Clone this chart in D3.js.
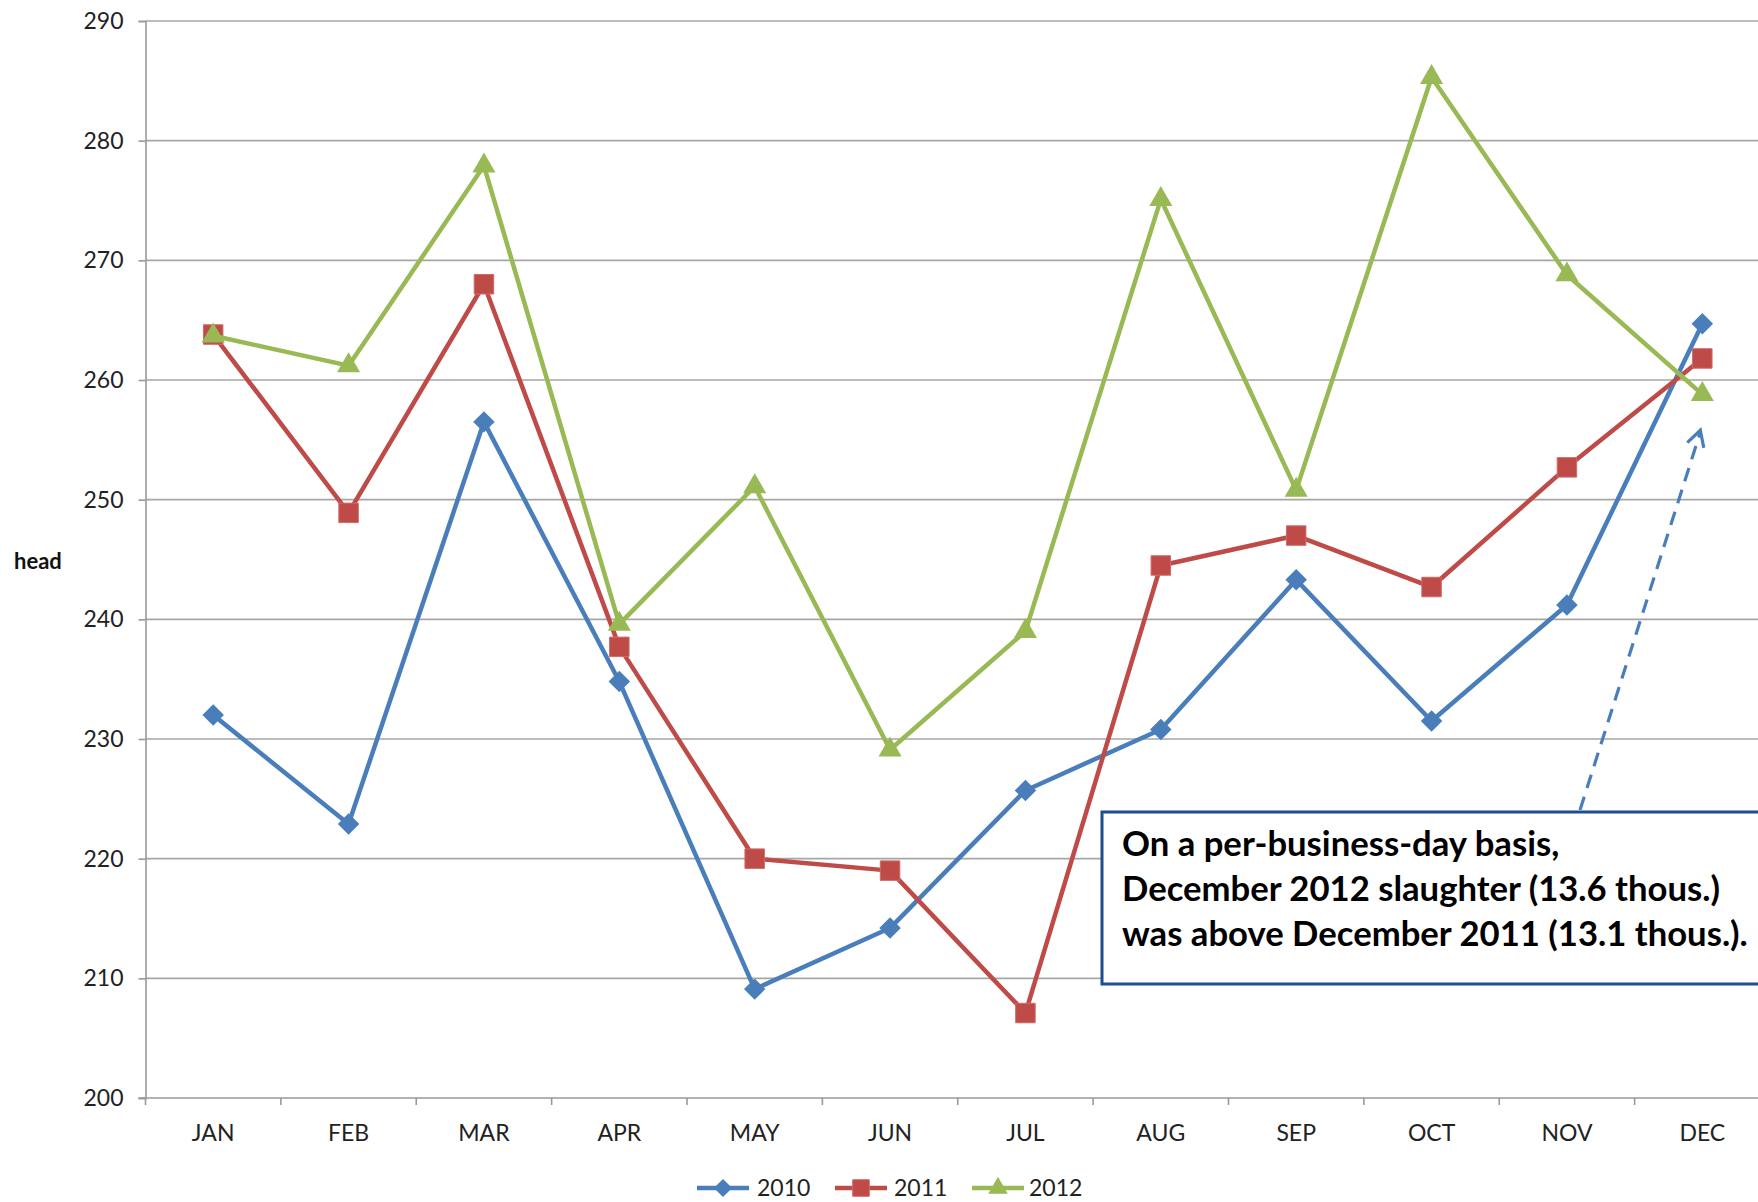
<!DOCTYPE html>
<html>
<head>
<meta charset="utf-8">
<script src="https://cdn.jsdelivr.net/npm/d3@7"></script>
<style>
  html, body { margin: 0; padding: 0; background: #fff; overflow: hidden; }
  svg { display: block; }
  text { font-family: Lato, "Open Sans", "Liberation Sans", sans-serif; }
</style>
</head>
<body>
<svg id="chart" width="1758" height="1202"></svg>
<script>
const months = ["JAN","FEB","MAR","APR","MAY","JUN","JUL","AUG","SEP","OCT","NOV","DEC"];
const yTicks = [200,210,220,230,240,250,260,270,280,290];
const seriesNames = ["2010","2011","2012"];
const values2010 = [232.0,222.9,256.5,234.8,209.1,214.2,225.7,230.8,243.3,231.5,241.2,264.7];
const values2011 = [263.8,248.9,268.0,237.7,220.0,219.0,207.1,244.5,247.0,242.7,252.7,261.8];
const values2012 = [263.7,261.2,277.9,239.6,251.1,229.1,239.0,275.1,250.8,285.3,268.8,258.8];
const colors = ["#4A7EBB","#BE4B48","#98B954"];
const markerTypes = ["diamond","square","triangle"];
const annotationLines = [
  "On a per-business-day basis,",
  "December 2012 slaughter (13.6 thous.)",
  "was above December 2011 (13.1 thous.)."
];
const arrowTargetValue = 255.8;

const svg = d3.select("#chart");
const W = 1758, H = 1202;
const plotLeft = 145.5, plotRight = 1770, plotTop = 21, plotBottom = 1098;

const xBand = d3.scaleBand().domain(months).range([plotLeft, plotRight]).padding(0);
const x = m => xBand(m) + xBand.bandwidth() / 2;
const y = d3.scaleLinear().domain([200, 290]).range([plotBottom, plotTop]);

// gridlines
svg.append("g").selectAll("line").data(yTicks.filter(t => t > 200)).join("line")
  .attr("x1", plotLeft).attr("x2", W)
  .attr("y1", d => y(d)).attr("y2", d => y(d))
  .attr("stroke", "#A6A6A6").attr("stroke-width", 1.6);

// y axis
const yAxis = d3.axisLeft(y).tickValues(yTicks).tickSize(7).tickPadding(15).tickFormat(d3.format("d"));
const gy = svg.append("g").attr("transform", `translate(${plotLeft},0)`).call(yAxis);
gy.select(".domain").attr("stroke", "#999").attr("stroke-width", 1.6);
gy.selectAll(".tick line").attr("stroke", "#999").attr("stroke-width", 1.6);
gy.selectAll(".tick text").attr("font-size", 23).attr("fill", "#222");

// x axis
const gx = svg.append("g").attr("transform", `translate(0,${plotBottom})`);
gx.append("line").attr("x1", plotLeft - 7).attr("x2", W).attr("y1", 0).attr("y2", 0)
  .attr("stroke", "#999").attr("stroke-width", 1.6);
gx.selectAll("line.tk").data(months.concat(["END"])).join("line").attr("class","tk")
  .attr("x1", (d,i) => plotLeft + i * xBand.bandwidth())
  .attr("x2", (d,i) => plotLeft + i * xBand.bandwidth())
  .attr("y1", 0).attr("y2", 7).attr("stroke", "#999").attr("stroke-width", 1.6);
gx.selectAll("text").data(months).join("text")
  .attr("x", d => x(d)).attr("y", 43)
  .attr("text-anchor", "middle").attr("font-size", 23).attr("fill", "#222")
  .text(d => d);

// y axis title
svg.append("text").attr("x", 14).attr("y", 569).attr("font-size", 22)
  .attr("font-weight", "bold").attr("fill", "#111").text("head");

// markers
function drawMarker(g, type, color, scale) {
  const s = scale || 1;
  if (type === "diamond") {
    g.append("path").attr("d", d3.symbol().type(d3.symbolSquare).size(230 * s * s)())
      .attr("transform", "rotate(45)").attr("fill", color);
  } else if (type === "square") {
    g.append("path").attr("d", d3.symbol().type(d3.symbolSquare).size(380 * s * s)())
      .attr("fill", color).attr("stroke", "#D06A67").attr("stroke-width", 1);
  } else {
    g.append("path").attr("d", d3.symbol().type(d3.symbolTriangle).size(230 * s * s)())
      .attr("fill", color);
  }
}

const allSeries = [values2010, values2011, values2012];
const line = d3.line().x((d,i) => x(months[i])).y(d => y(d));

allSeries.forEach((vals, si) => {
  const g = svg.append("g");
  g.append("path").datum(vals).attr("d", line)
    .attr("fill", "none").attr("stroke", colors[si]).attr("stroke-width", 4.5)
    .attr("stroke-linejoin", "round");
  vals.forEach((v, i) => {
    const mg = g.append("g").attr("transform", `translate(${x(months[i])},${y(v)})`);
    drawMarker(mg, markerTypes[si], colors[si]);
  });
});

// annotation box
const boxLeft = 1102, boxTop = 812, boxBottom = 984;
svg.append("rect").attr("x", boxLeft).attr("y", boxTop)
  .attr("width", W - boxLeft + 20).attr("height", boxBottom - boxTop)
  .attr("fill", "#fff").attr("stroke", "#1F4E8C").attr("stroke-width", 3);
const tg = svg.append("g");
const tx = annotationLines.map((t, i) => tg.append("text")
  .attr("x", boxLeft + 20).attr("y", boxTop + 44 + i * 45)
  .attr("font-size", 30).attr("font-weight", "bold").attr("fill", "#000").text(t));
// fit the widest line (line 3) to about 626px so it ends inside the page
const w3 = tx[2].node().getComputedTextLength();
const fs = 30 * 626 / w3;
tx.forEach(t => t.attr("font-size", fs));

// dashed arrow
const tipX = x("DEC") - 2, tipY = y(arrowTargetValue);
const baseX = 1580, baseY = boxTop - 2;
svg.append("line").attr("x1", baseX).attr("y1", baseY).attr("x2", tipX).attr("y2", tipY + 2)
  .attr("stroke", "#4A7EBB").attr("stroke-width", 3.2).attr("stroke-dasharray", "14,9");
const ang = Math.atan2(baseY - tipY, baseX - tipX);
const L = 18, spread = 0.5;
svg.append("path")
  .attr("d", `M${tipX + L*Math.cos(ang - spread)},${tipY + L*Math.sin(ang - spread)} L${tipX},${tipY} L${tipX + L*Math.cos(ang + spread)},${tipY + L*Math.sin(ang + spread)}`)
  .attr("fill", "none").attr("stroke", "#4A7EBB").attr("stroke-width", 3.2);

// legend
const legendItems = [
  {lx: 697, tx: 757},
  {lx: 835, tx: 894},
  {lx: 972, tx: 1029}
];
const ly = 1188;
seriesNames.forEach((name, i) => {
  const g = svg.append("g");
  g.append("line").attr("x1", legendItems[i].lx).attr("x2", legendItems[i].lx + 52)
    .attr("y1", ly).attr("y2", ly).attr("stroke", colors[i]).attr("stroke-width", 4.5);
  const mg = g.append("g").attr("transform", `translate(${legendItems[i].lx + 26},${ly})`);
  drawMarker(mg, markerTypes[i], colors[i], 0.85);
  g.append("text").attr("x", legendItems[i].tx).attr("y", ly + 8)
    .attr("font-size", 23).attr("fill", "#222").text(name);
});
</script>
</body>
</html>
